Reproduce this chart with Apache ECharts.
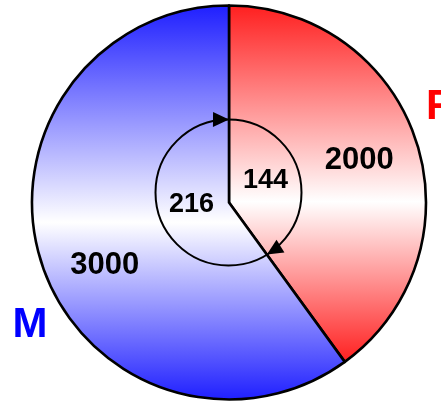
<!DOCTYPE html>
<html>
<head>
<meta charset="utf-8">
<style>html,body{margin:0;padding:0;background:#fff;}#main{width:441px;height:406px;}</style>
<script src="https://cdn.jsdelivr.net/npm/echarts@6/dist/echarts.min.js"></script>
</head>
<body>
<div id="main"></div>
<script>
// ---- data ----
var categories = ['F', 'M'];
var values = [2000, 3000];
var sliceColors = ['#ff1e1e', '#1e1eff'];

// ---- layout constants ----
var CX = 229, CY = 202.5, R = 197;
var ICX = 228.5, ICY = 192.5, IR = 73;

var chart = echarts.init(document.getElementById('main'), null, {renderer: 'canvas'});

function grad(c) {
  return {type: 'linear', x: 0, y: 0, x2: 0, y2: 1,
    colorStops: [{offset: 0, color: c}, {offset: 0.55, color: '#ffffff'}, {offset: 1, color: c}]};
}

var total = values.reduce(function (a, b) { return a + b; }, 0);
var pieData = categories.map(function (n, i) {
  return {name: n, value: values[i], itemStyle: {color: grad(sliceColors[i])}};
});
var labelData = categories.map(function (n, i) {
  var d = {name: n, value: values[i]};
  if (i === 1) d.label = {offset: [6, 21]};
  return d;
});

// angles (canvas radians, clockwise from +x) for the inner arrow circle
var boundaryDeg = values[0] / total * 360;           // clockwise from top
var divAng = -Math.PI / 2 + boundaryDeg * Math.PI / 180;

// intersection of divider line (from pie center) with inner circle
var dx = Math.cos(divAng), dy = Math.sin(divAng);
var ox = CX - ICX, oy = CY - ICY;
var b = 2 * (ox * dx + oy * dy), c = ox * ox + oy * oy - IR * IR;
var t = (-b + Math.sqrt(b * b - 4 * c)) / 2;
var divPt = [CX + dx * t, CY + dy * t];
var divOnCircle = Math.atan2(divPt[1] - ICY, divPt[0] - ICX);
var topPt = [CX, ICY - Math.sqrt(IR * IR - (CX - ICX) * (CX - ICX))];
var topOnCircle = Math.atan2(topPt[1] - ICY, topPt[0] - ICX);

function arrowHead(pt, ang) {
  // ang = angle on circle; clockwise tangent direction
  var tx = -Math.sin(ang), ty = Math.cos(ang);
  var nx = Math.cos(ang), ny = Math.sin(ang);
  var L = 16, W = 7.5;
  var bx = pt[0] - tx * L, by = pt[1] - ty * L;
  return {type: 'polygon', shape: {points: [pt, [bx + nx * W, by + ny * W], [bx - nx * W, by - ny * W]]},
    style: {fill: '#000'}, z: 20};
}

var option = {
  backgroundColor: '#ffffff',
  animation: false,
  series: [
    {
      type: 'pie', center: [CX, CY], radius: [0, R], startAngle: 90, clockwise: true,
      silent: true, z: 2,
      itemStyle: {borderColor: '#000', borderWidth: 2.6},
      label: {show: false}, labelLine: {show: false},
      data: pieData
    },
    {
      type: 'pie', center: [CX, CY], radius: [100, 168], startAngle: 90, clockwise: true,
      silent: true, z: 5,
      itemStyle: {color: 'rgba(0,0,0,0)', borderWidth: 0},
      label: {show: true, position: 'inside', formatter: '{c}', fontFamily: 'Liberation Sans, Arial, sans-serif',
        fontWeight: 'bold', fontSize: 31, color: '#000'},
      labelLine: {show: false},
      data: labelData
    },
    {
      type: 'pie', center: [ICX, ICY], radius: [0, 72], startAngle: 90, clockwise: true,
      silent: true, z: 5,
      itemStyle: {color: 'rgba(0,0,0,0)', borderWidth: 0},
      label: {show: true, position: 'inside', fontFamily: 'Liberation Sans, Arial, sans-serif',
        fontWeight: 'bold', fontSize: 27, color: '#000',
        formatter: function (p) { return Math.round(p.value / total * 360); }},
      labelLine: {show: false},
      data: categories.map(function (n, i) { return {name: n, value: values[i]}; })
    }
  ],
  graphic: [
    {type: 'arc', shape: {cx: ICX, cy: ICY, r: IR, startAngle: 0, endAngle: Math.PI * 2},
      style: {stroke: '#000', lineWidth: 2, fill: null}, z: 15},
    arrowHead(topPt, topOnCircle),
    arrowHead(divPt, divOnCircle),
    {type: 'text', x: 426, y: 107, z: 30,
      style: {text: categories[0], fill: '#ff0000', font: 'bold 42px "Liberation Sans", Arial, sans-serif',
        textAlign: 'left', textVerticalAlign: 'middle'}},
    {type: 'text', x: 30, y: 325, z: 30,
      style: {text: categories[1], fill: '#0000ff', font: 'bold 42px "Liberation Sans", Arial, sans-serif',
        textAlign: 'center', textVerticalAlign: 'middle'}}
  ]
};
chart.setOption(option);
</script>
</body>
</html>
